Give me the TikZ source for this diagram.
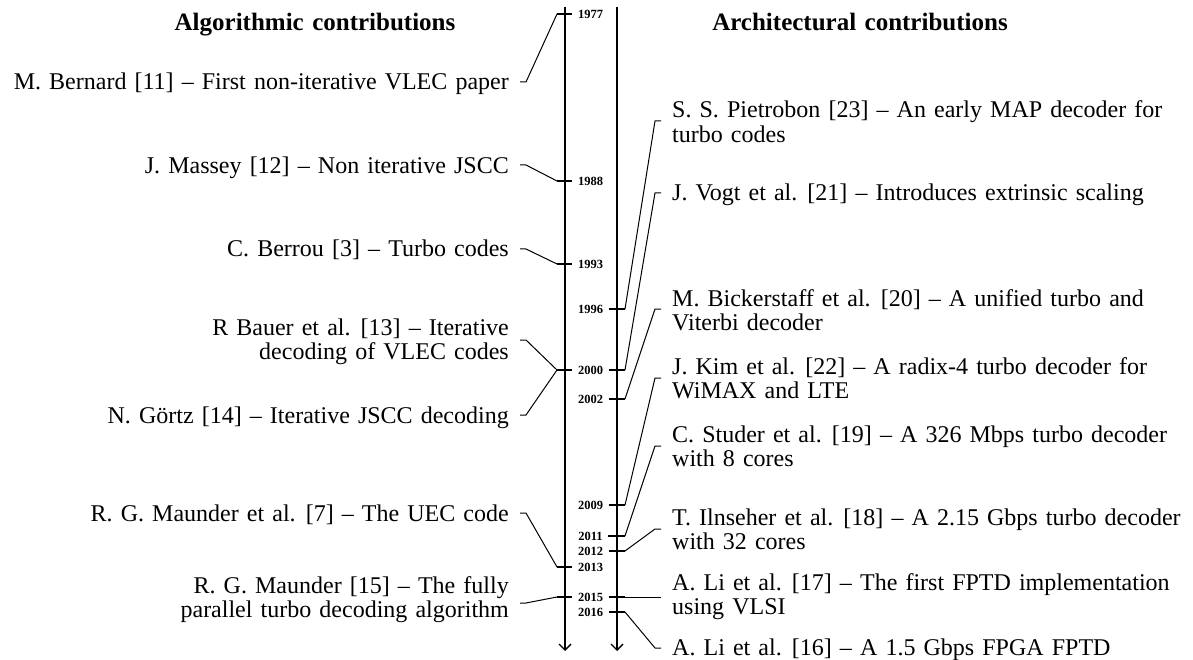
\documentclass[tikz,border=0pt]{standalone}
\usepackage{fontspec}
\setmainfont{Liberation Serif}[WordSpace=1.35]
\usetikzlibrary{arrows.meta}
\begin{document}
\begin{tikzpicture}[x=1pt,y=-1pt,
 txt/.style={inner sep=0pt, font=\fontsize{24}{24.5}\selectfont},
 ltxt/.style={txt, anchor=base east, align=right},
 rtxt/.style={txt, anchor=base west, align=left},
 yr/.style={font=\fontsize{12.5}{13}\selectfont\bfseries, inner xsep=5.5pt, inner ysep=0pt, text height=8.5pt, text depth=0pt},
 lead/.style={line width=1pt},
 tick/.style={line width=1.3pt},
 axis/.style={line width=2pt, -{Straight Barb[length=6pt,width=12pt,line width=1.4pt]}},
 ttl/.style={font=\fontsize{25}{27}\selectfont\bfseries, anchor=base}]
\useasboundingbox (0,0) rectangle (1193,660);

% titles
\node[ttl] (ttlA) at (315,31) {Algorithmic contributions};
\node[ttl] (ttlB) at (860,31) {Architectural contributions};

% axes
\coordinate (aLt) at (565,7);  \coordinate (aLb) at (565,651);
\coordinate (aRt) at (617,7);  \coordinate (aRb) at (617,651);
\draw[axis] (aLt) -- (aLb);
\draw[axis] (aRt) -- (aRb);

% years
\foreach \y/\v in {1977/14,1988/181,1993/264,1996/309,2000/370,2002/399,2009/505,2011/536,2012/551,2013/567,2015/597,2016/612}
  \node[yr] (y\y) at (590.5,\v) {\y};

% left ticks
\foreach \y/\v in {1977/14,1988/181,1993/264,2000/370,2013/567,2015/597}
  {\coordinate (lk\y) at (557,\v); \draw[tick] (lk\y) -- (y\y.west);}
% right ticks
\foreach \y/\v in {1996/309,2000/370,2002/399,2009/505,2011/536,2012/551,2015/597,2016/612}
  {\coordinate (rk\y) at (625,\v); \draw[tick] (y\y.east) -- (rk\y);}

% left texts (base = last line)
\node[ltxt] (bern) at (509,90) {M. Bernard [11] -- First non-iterative VLEC paper};
\node[ltxt] (mass) at (509,174) {J. Massey [12] -- Non iterative JSCC};
\node[ltxt] (berr) at (509,257) {C. Berrou [3] -- Turbo codes};
\node[ltxt] (baue) at (509,359.5) {R Bauer et al. [13] -- Iterative\\decoding of VLEC codes};
\node[ltxt] (gort) at (509,423) {N. Görtz [14] -- Iterative JSCC decoding};
\node[ltxt] (uec)  at (509,521) {R. G. Maunder et al. [7] -- The UEC code};
\node[ltxt] (maun) at (509,617.5) {R. G. Maunder [15] -- The fully\\parallel turbo decoding algorithm};

% left leaders
\foreach \n/\s/\y in {bern/82/1977,mass/165/1988,berr/249/1993,baue/340/2000,gort/415/2000,uec/513/2013,maun/603/2015}
  {\coordinate (s\n) at (520,\s); \coordinate (k\n) at (526,\s);
   \draw[lead] (s\n) -- (k\n) -- (lk\y);}

% right texts (base = last line)
\node[rtxt] (piet) at (672,142.5) {S. S. Pietrobon [23] -- An early MAP decoder for\\turbo codes};
\node[rtxt] (vogt) at (672,201) {J. Vogt et al. [21] -- Introduces extrinsic scaling};
\node[rtxt] (bick) at (672,330.5) {M. Bickerstaff et al. [20] -- A unified turbo and\\Viterbi decoder};
\node[rtxt] (kim)  at (672,398.5) {J. Kim et al. [22] -- A radix-4 turbo decoder for\\WiMAX and LTE};
\node[rtxt] (stud) at (672,466.5) {C. Studer et al. [19] -- A 326 Mbps turbo decoder\\with 8 cores};
\node[rtxt] (ilns) at (672,549.5) {T. Ilnseher et al. [18] -- A 2.15 Gbps turbo decoder\\with 32 cores};
\node[rtxt] (lis)  at (672,614.5) {A. Li et al. [17] -- The first FPTD implementation\\using VLSI};
\node[rtxt] (lif)  at (672,655) {A. Li et al. [16] -- A 1.5 Gbps FPGA FPTD};

% right leaders
\foreach \n/\s/\y in {piet/121/1996,vogt/193/2000,bick/309/2002,kim/378/2009,stud/446/2011,ilns/529/2012,lif/648/2016}
  {\coordinate (s\n) at (661,\s); \coordinate (k\n) at (655,\s);
   \draw[lead] (rk\y) -- (k\n) -- (s\n);}
\coordinate (slis) at (661,597);
\draw[lead] (rk2015) -- (slis);
\end{tikzpicture}
\end{document}
